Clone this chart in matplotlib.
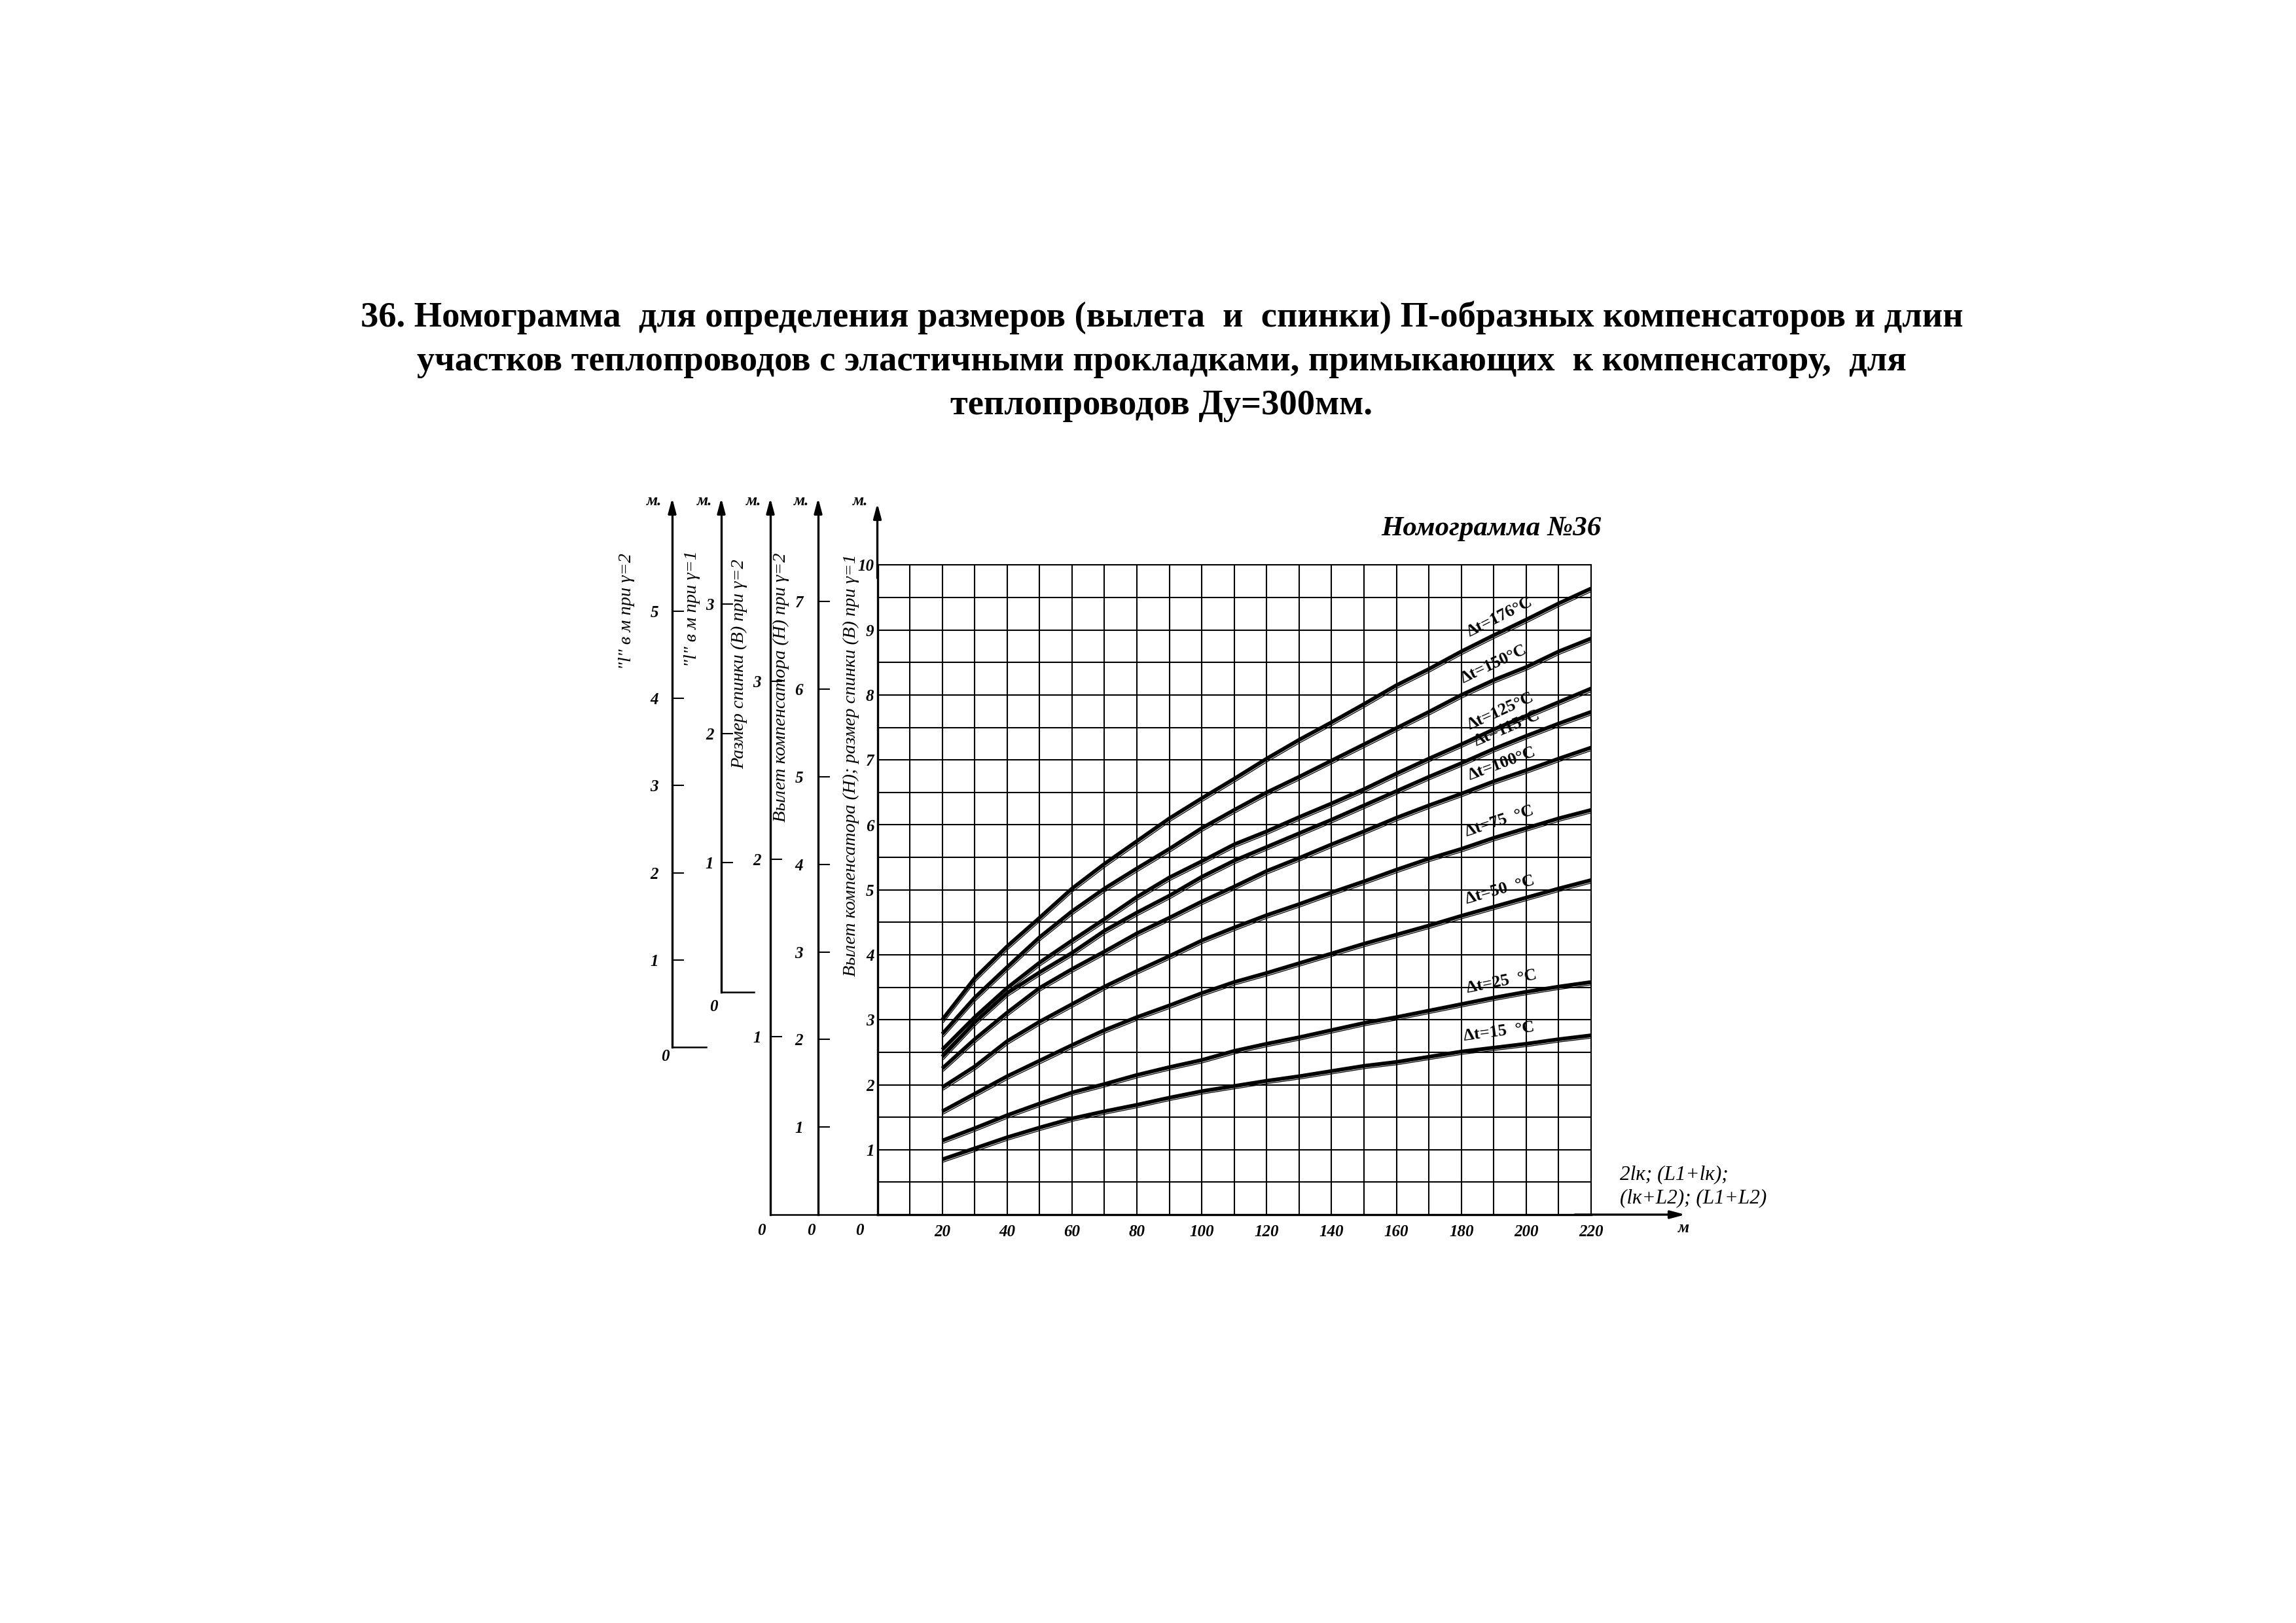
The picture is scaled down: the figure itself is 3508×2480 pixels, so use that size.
import numpy as np
import matplotlib
matplotlib.use("Agg")
import matplotlib.pyplot as plt
from matplotlib.transforms import offset_copy

plt.rcParams['font.family'] = ['Liberation Serif', 'DejaVu Serif']

# длина участка 2lк; (L1+lк); (lк+L2); (L1+L2), м
x_len = [20, 30, 40, 50, 60, 70, 80, 90, 100, 110, 120,
         130, 140, 150, 160, 170, 180, 190, 200, 210, 220]

# вылет компенсатора H (или спинка B) при gamma=1, м
h_176 = [3.00, 3.64, 4.13, 4.57, 5.02, 5.40, 5.75, 6.10, 6.41, 6.71, 7.02,
         7.31, 7.58, 7.86, 8.15, 8.40, 8.67, 8.92, 9.16, 9.41, 9.64]
h_150 = [2.78, 3.34, 3.81, 4.27, 4.67, 5.02, 5.33, 5.63, 5.95, 6.23, 6.50,
         6.74, 6.99, 7.24, 7.49, 7.74, 8.00, 8.23, 8.43, 8.67, 8.87]
h_125 = [2.54, 3.04, 3.49, 3.88, 4.22, 4.55, 4.89, 5.19, 5.44, 5.70, 5.90,
         6.12, 6.33, 6.55, 6.79, 7.02, 7.24, 7.47, 7.68, 7.89, 8.10]
h_115 = [2.43, 2.96, 3.41, 3.73, 4.03, 4.37, 4.65, 4.91, 5.20, 5.45, 5.66,
         5.87, 6.08, 6.30, 6.52, 6.74, 6.95, 7.17, 7.37, 7.56, 7.74]
h_100 = [2.25, 2.70, 3.11, 3.49, 3.78, 4.05, 4.33, 4.57, 4.82, 5.05, 5.29,
         5.49, 5.70, 5.90, 6.11, 6.30, 6.48, 6.67, 6.84, 7.02, 7.19]
h_75 = [1.96, 2.28, 2.67, 2.97, 3.24, 3.51, 3.75, 3.98, 4.22, 4.42, 4.61,
        4.78, 4.96, 5.13, 5.31, 5.48, 5.63, 5.80, 5.95, 6.10, 6.23]
h_50 = [1.59, 1.86, 2.13, 2.37, 2.61, 2.84, 3.04, 3.22, 3.41, 3.58, 3.72,
        3.87, 4.02, 4.17, 4.31, 4.45, 4.60, 4.74, 4.88, 5.02, 5.15]
h_25 = [1.14, 1.33, 1.53, 1.71, 1.88, 2.01, 2.15, 2.27, 2.38, 2.52, 2.63,
        2.73, 2.84, 2.95, 3.04, 3.14, 3.24, 3.34, 3.43, 3.51, 3.58]
h_15 = [0.85, 1.02, 1.19, 1.34, 1.48, 1.59, 1.69, 1.80, 1.90, 1.98, 2.06,
        2.13, 2.21, 2.29, 2.35, 2.43, 2.51, 2.57, 2.63, 2.70, 2.76]

curves = [h_176, h_150, h_125, h_115, h_100, h_75, h_50, h_25, h_15]
dt_names = ["Δt=176°C", "Δt=150°C", "Δt=125°C", "Δt=115°C", "Δt=100°C",
            "Δt=75  °C", "Δt=50  °C", "Δt=25  °C", "Δt=15  °C"]

x_ticks = [20, 40, 60, 80, 100, 120, 140, 160, 180, 200, 220]
y_ticks = [1, 2, 3, 4, 5, 6, 7, 8, 9, 10]

# дополнительные шкалы слева
scale_l2 = [1, 2, 3, 4, 5]     # "l" в м при gamma=2
scale_l1 = [1, 2, 3]           # "l" в м при gamma=1
scale_b2 = [1, 2, 3]           # спинка B при gamma=2
scale_h2 = [1, 2, 3, 4, 5, 6, 7]  # вылет H при gamma=2

W, H, DPI = 3508, 2480, 300
fig = plt.figure(figsize=(W / DPI, H / DPI), dpi=DPI)


def box(x0, yb, x1, yt):
    # пиксели листа -> доли фигуры
    return [x0 / W, 1 - yb / H, (x1 - x0) / W, (yb - yt) / H]


def ftext(px, py, s, **kw):
    return fig.text(px / W, 1 - py / H, s, **kw)


TOP = 783
arrow = dict(arrowstyle='-|>,head_length=0.45,head_width=0.12',
             color='k', lw=0.8, shrinkA=0, shrinkB=0)
num_font = dict(fontweight='bold', fontstyle='italic', fontsize=6)

# основное поле номограммы
ax = fig.add_axes(box(1340.5, 1856, 2431, 863.5))
ax.set_xlim(0, 220)
ax.set_ylim(0, 10)
ax.set_xticks(x_ticks)
ax.set_xticks(np.arange(10, 221, 20), minor=True)
ax.set_yticks(y_ticks)
ax.set_yticks(np.arange(0.5, 10, 1), minor=True)
ax.set_xticklabels([str(v) for v in x_ticks], **num_font)
ax.set_yticklabels([str(v) for v in y_ticks], **num_font)
ax.tick_params(which='both', length=0)
ax.tick_params(axis='x', pad=3.5)
ax.tick_params(axis='y', pad=1.2)
ax.grid(which='both', color='k', lw=0.5)
for s in ('top', 'right'):
    ax.spines[s].set_linewidth(0.5)
for s in ('left', 'bottom'):
    ax.spines[s].set_linewidth(0.8)

thin = offset_copy(ax.transData, fig=fig, x=2, y=-4, units='dots')
for h in curves:
    ax.plot(x_len, h, color='k', lw=1.4, solid_capstyle='butt', zorder=3)
    ax.plot(x_len, h, color='k', lw=0.3, transform=thin, zorder=3)

# подписи кривых
label_x = [183, 181, 183, 185, 183, 182, 182, 182, 181]
for h, name, xl in zip(curves, dt_names, label_x):
    yl = np.interp(xl, x_len, h)
    p0 = ax.transData.transform((xl - 5, np.interp(xl - 5, x_len, h)))
    p1 = ax.transData.transform((xl + 10, np.interp(xl + 10, x_len, h)))
    ang = np.degrees(np.arctan2(p1[1] - p0[1], p1[0] - p0[0]))
    ax.text(xl, yl + 0.11, name, rotation=ang, rotation_mode='anchor',
            ha='left', va='bottom', fontsize=6.3, fontweight='bold', zorder=4)

ax.annotate('', xy=(0, 10.95), xytext=(0, 9.8), arrowprops=arrow,
            annotation_clip=False)
ax.annotate('', xy=(249, 0), xytext=(215, 0), arrowprops=arrow,
            annotation_clip=False)


def side_scale(x, y0, per_unit, width, ticks, pad):
    a = fig.add_axes(box(x, y0, x + width, TOP))
    a.set_xlim(0, 1)
    a.set_ylim(0, (y0 - TOP) / per_unit)
    a.patch.set_visible(False)
    for s in ('top', 'right'):
        a.spines[s].set_visible(False)
    a.spines['left'].set_linewidth(0.8)
    a.spines['bottom'].set_linewidth(0.6)
    a.set_xticks([])
    a.set_yticks(ticks)
    a.set_yticklabels([str(v) for v in ticks], **num_font)
    a.tick_params(axis='y', direction='in', length=4.2, width=0.5, pad=pad)
    a.annotate('', xy=(0, 1 + 22 / (y0 - TOP)), xytext=(0, 1),
               xycoords='axes fraction', arrowprops=arrow,
               annotation_clip=False)
    return a


side_scale(1027, 1600, 133.2, 52, scale_l2, 5)
side_scale(1102, 1516, 197.6, 50, scale_l1, 2.8)
side_scale(1177, 1856, 271.6, 73, scale_b2, 3.4)
side_scale(1250, 1856, 133.8, 90.5, scale_h2, 5.5)

# единицы измерения и нули шкал
for px in (1000, 1077, 1152, 1225, 1315):
    ftext(px, 765, 'м.', ha='center', va='center', **num_font)
for px, py in ((1016, 1614), (1090, 1538), (1163, 1880), (1239, 1880), (1313, 1880)):
    ftext(px, py, '0', ha='center', va='center', **num_font)
ftext(2572, 1876, 'м', ha='center', va='center', **num_font)

# подписи шкал
side_labels = [
    (958, 1023, '"l" в м при γ=2'),
    (1057, 1019, '"l" в м при γ=1'),
    (1130, 1175, 'Размер спинки (B) при γ=2'),
    (1193, 1256, 'Вылет компенсатора (H) при γ=2'),
    (1300, 1492, 'Вылет компенсатора (H); размер спинки (B) при γ=1'),
]
for px, py, s in side_labels:
    ftext(px, py, s, rotation=90, ha='center', va='bottom',
          fontstyle='italic', fontsize=6.8)

ftext(2475, 1813, '2lк; (L1+lк);\n(lк+L2); (L1+L2)', ha='left', va='center',
      fontstyle='italic', fontsize=7.5, linespacing=1.3)

ftext(2447, 808, 'Номограмма №36', ha='right', va='center',
      fontweight='bold', fontstyle='italic', fontsize=10.3)

title = ["36. Номограмма  для определения размеров (вылета  и  спинки) П-образных компенсаторов и длин",
         "участков теплопроводов с эластичными прокладками, примыкающих  к компенсатору,  для",
         "теплопроводов Ду=300мм."]
for py, s in zip((485, 553, 620), title):
    ftext(1775, py, s, ha='center', va='center', fontweight='bold', fontsize=13.1)

fig.savefig('out.png', dpi=DPI, facecolor='white')
